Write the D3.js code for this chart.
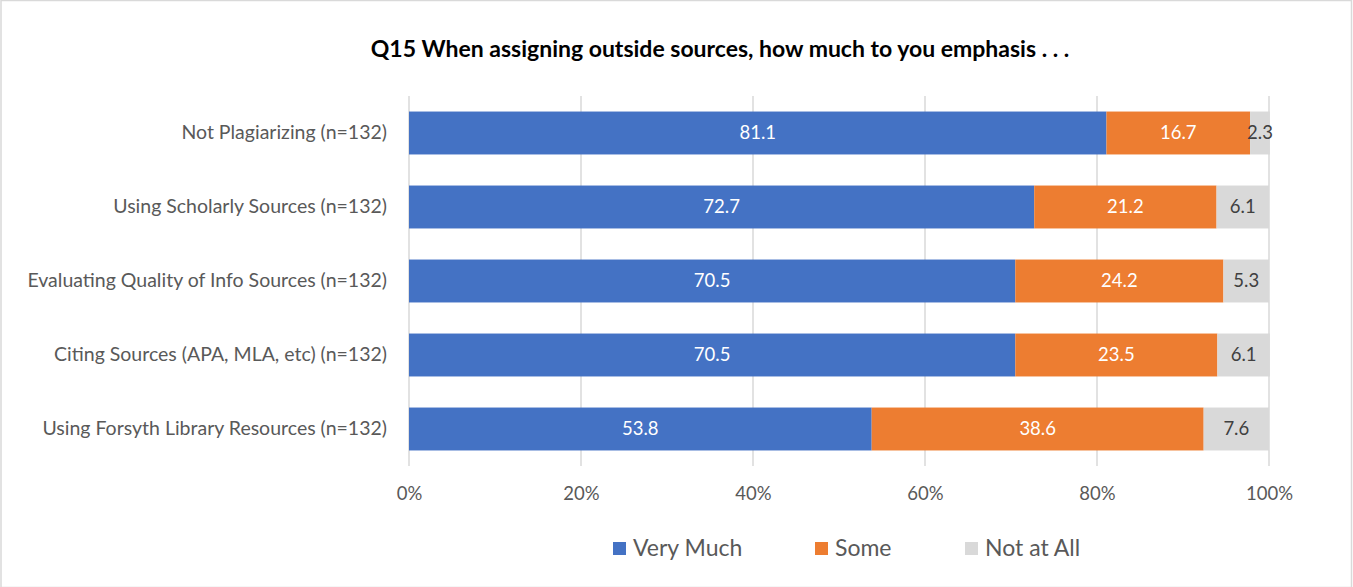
<!DOCTYPE html>
<html>
<head>
<meta charset="utf-8">
<script src="https://cdn.jsdelivr.net/npm/d3@7"></script>
<style>
  html, body { margin: 0; padding: 0; background: #fff; }
  svg { display: block; font-family: Lato, "Open Sans", sans-serif; }
</style>
</head>
<body>
<svg id="chart" width="1353" height="587"></svg>
<script>
// Survey items (top to bottom)
const categories = [
  "Not Plagiarizing (n=132)",
  "Using Scholarly Sources (n=132)",
  "Evaluating Quality of Info Sources (n=132)",
  "Citing Sources (APA, MLA, etc) (n=132)",
  "Using Forsyth Library Resources (n=132)"
];
const seriesNames = ["Very Much", "Some", "Not at All"];
const veryMuch = [81.1, 72.7, 70.5, 70.5, 53.8];
const some     = [16.7, 21.2, 24.2, 23.5, 38.6];
const notAtAll = [2.3, 6.1, 5.3, 6.1, 7.6];
const tickValues = [0, 20, 40, 60, 80, 100];
const colors = ["#4472c4", "#ed7d31", "#d9d9d9"];
const labelColors = ["#ffffff", "#ffffff", "#404040"];

const svg = d3.select("#chart");
const W = 1353, H = 587;

// outer chart frame
svg.append("rect")
  .attr("x", 1).attr("y", 0.5).attr("width", W - 2.5).attr("height", H)
  .attr("fill", "#fff").attr("stroke", "#d9d9d9").attr("stroke-width", 1.5);

const x = d3.scaleLinear().domain([0, 100]).range([409, 1269]);
const y = d3.scaleBand().domain(categories).range([96, 466])
  .paddingInner(0.42).paddingOuter(0.21);

// title
svg.append("text")
  .attr("x", 720).attr("y", 57)
  .attr("text-anchor", "middle")
  .attr("font-size", 23).attr("font-weight", "bold").attr("fill", "#000")
  .text("Q15 When assigning outside sources, how much to you emphasis . . .");

// vertical gridlines
svg.append("g").selectAll("line").data(tickValues).join("line")
  .attr("x1", d => x(d)).attr("x2", d => x(d))
  .attr("y1", 96).attr("y2", 466)
  .attr("stroke", "#d9d9d9").attr("stroke-width", 1.5);

// x axis labels
const xAxis = d3.axisBottom(x).tickValues(tickValues).tickFormat(d => d + "%").tickSize(0).tickPadding(0);
const gx = svg.append("g").attr("transform", "translate(0,500)").call(xAxis);
gx.select(".domain").remove();
gx.selectAll("text").attr("font-size", 18.5).attr("fill", "#595959")
  .attr("font-family", "Lato, sans-serif").attr("dy", 0);

// y axis labels
const yAxis = d3.axisLeft(y).tickSize(0).tickPadding(0);
const gy = svg.append("g").attr("transform", "translate(387,0)").call(yAxis);
gy.select(".domain").remove();
gy.selectAll("text").attr("font-size", 19.5).attr("fill", "#595959")
  .attr("font-family", "Lato, sans-serif");

// stacked series
const rows = categories.map((c, i) => ({ cat: c, "Very Much": veryMuch[i], "Some": some[i], "Not at All": notAtAll[i] }));
const stacked = d3.stack().keys(seriesNames)(rows);

const layers = svg.append("g").selectAll("g").data(stacked).join("g")
  .attr("fill", (d, i) => colors[i]);

layers.selectAll("rect").data(d => d).join("rect")
  .attr("x", d => x(d[0]))
  .attr("y", d => y(d.data.cat))
  .attr("width", d => x(d[1]) - x(d[0]))
  .attr("height", y.bandwidth());

// value labels
svg.append("g").selectAll("g").data(stacked).join("g")
  .each(function (layer, li) {
    d3.select(this).selectAll("text").data(layer).join("text")
      .attr("x", d => (x(d[0]) + x(d[1])) / 2)
      .attr("y", d => y(d.data.cat) + y.bandwidth() / 2)
      .attr("dy", "0.35em")
      .attr("text-anchor", "middle")
      .attr("font-size", 18.5)
      .attr("fill", labelColors[li])
      .text(d => d.data[layer.key].toFixed(1));
  });

// legend
const legendX = [613, 815, 965];
const lg = svg.append("g").selectAll("g").data(seriesNames).join("g")
  .attr("transform", (d, i) => `translate(${legendX[i]},548)`);
lg.append("rect").attr("x", 0).attr("y", -6).attr("width", 13).attr("height", 13)
  .attr("fill", (d, i) => colors[i]);
lg.append("text").attr("x", 20).attr("y", 0).attr("dy", "0.35em")
  .attr("font-size", 23).attr("fill", "#595959").text(d => d);
</script>
</body>
</html>
